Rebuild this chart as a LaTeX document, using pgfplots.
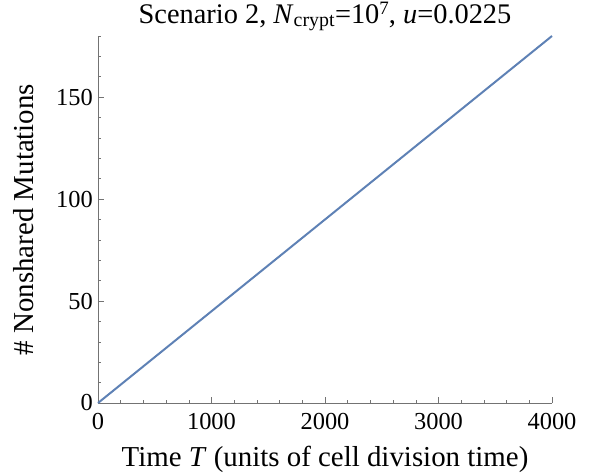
\documentclass[border=0pt]{standalone}
\usepackage{pgfplots}
\pgfplotsset{compat=1.18}
\usepackage{fontspec}
\setmainfont{Liberation Serif}
\definecolor{mblue}{rgb}{0.368417,0.506779,0.709798}
\begin{document}
\begin{tikzpicture}[x=1bp,y=1bp]
\begin{axis}[
  scale only axis,
  width=454bp, height=367bp,
  xmin=0, xmax=4000, ymin=0, ymax=180,
  axis x line*=bottom, axis y line*=left,
  axis line style={black!55, line width=0.8pt},
  xtick={0,1000,2000,3000,4000},
  ytick={0,50,100,150},
  minor xtick={200,400,600,800,1200,1400,1600,1800,2200,2400,2600,2800,3200,3400,3600,3800},
  minor ytick={10,20,30,40,60,70,80,90,110,120,130,140,160,170,180},
  tick align=inside,
  major tick length=6bp, minor tick length=3.5bp,
  tick style={black!55, line width=0.6pt},
  /pgf/number format/assume math mode=true,
  /pgf/number format/1000 sep={},
  ticklabel style={font=\fontsize{24.5}{26}\selectfont, inner sep=0pt},
  xticklabel style={anchor=base, yshift=-26bp},
  yticklabel style={anchor=east, xshift=-5bp},
  label style={font=\fontsize{29}{31}\selectfont},
  title style={font=\fontsize{28.5}{30}\selectfont, at={(axis description cs:0.5,1.019)}, anchor=base, inner sep=0pt},
  xlabel style={at={(axis description cs:0.5,-0.1717)}, anchor=base, inner sep=0pt},
  ylabel style={at={(axis description cs:-0.141,0.5)}, anchor=base, inner sep=0pt},
  xlabel={Time \textit{T} (units of cell division time)},
  ylabel={\# Nonshared Mutations},
  title={Scenario 2, \textit{N}\textsubscript{crypt}=10\raisebox{0.3em}{\fontsize{19}{20}\selectfont 7}, \textit{u}=0.0225},
  clip=false,
]
\addplot[mblue, line width=2bp] coordinates {(0,0) (4000,180)};
\coordinate (o) at (rel axis cs:0,0);
\end{axis}
\path ([shift={(-98bp,-73bp)}]o) rectangle ++(589bp,476bp);
\end{tikzpicture}
\end{document}
